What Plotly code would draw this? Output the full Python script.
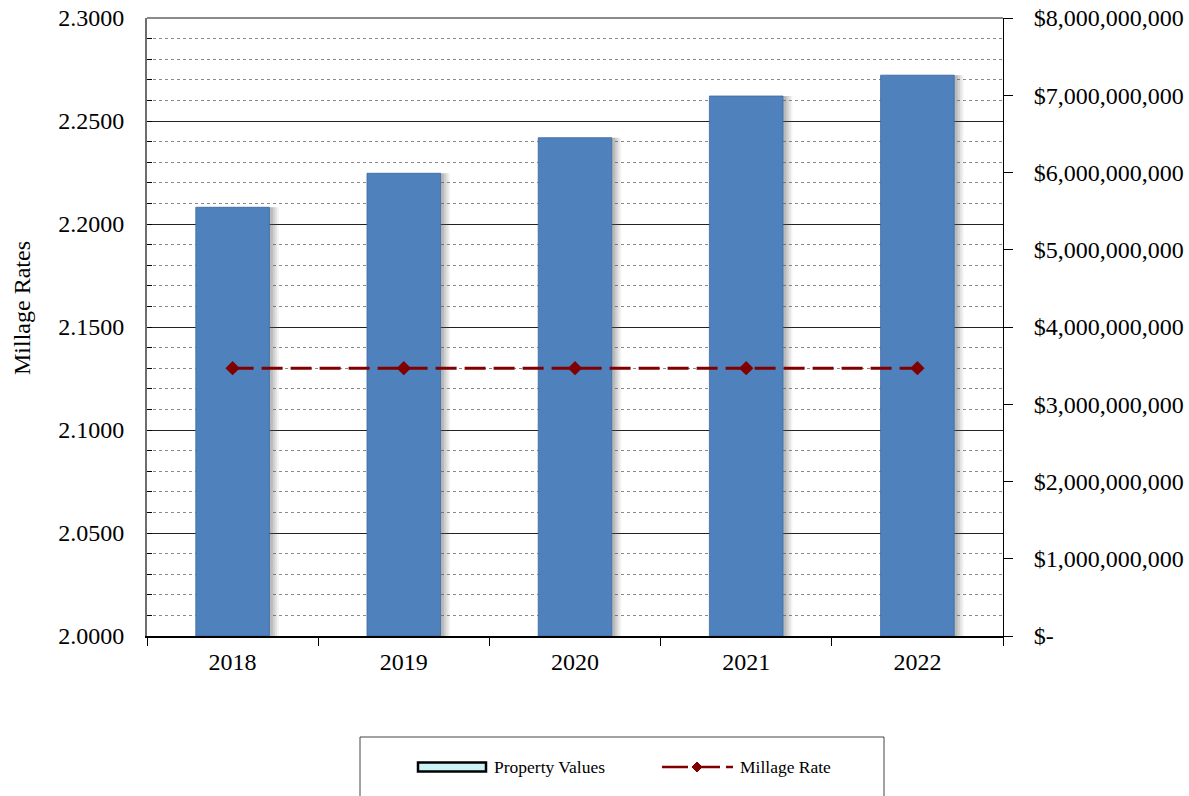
import plotly.graph_objects as go

years = ["2018", "2019", "2020", "2021", "2022"]
property_values = [5.55e9, 5.99e9, 6.45e9, 6.99e9, 7.26e9]
millage_rate = [2.13, 2.13, 2.13, 2.13, 2.13]
left_ticks = [2.0, 2.05, 2.10, 2.15, 2.20, 2.25, 2.30]
right_tickvals = [0, 1e9, 2e9, 3e9, 4e9, 5e9, 6e9, 7e9, 8e9]
right_ticktext = ["$-", "$1,000,000,000", "$2,000,000,000", "$3,000,000,000",
                  "$4,000,000,000", "$5,000,000,000", "$6,000,000,000",
                  "$7,000,000,000", "$8,000,000,000"]

FONT = "Liberation Serif, Times New Roman, serif"
W, H = 1189, 796
L, R, T, B = 147, 186, 18, 160
PW, PH = W - L - R, H - T - B


def px(x):
    return (x - L) / PW


def py(y):
    return (H - B - y) / PH


fig = go.Figure()

# soft shadow of bars (drawn from the same values)
for off, alpha in [(0.055, 0.07), (0.045, 0.10), (0.033, 0.14), (0.02, 0.18)]:
    fig.add_trace(go.Bar(
        x=years, y=property_values, width=0.43, offset=-0.215 + off,
        marker=dict(color=f"rgba(90,90,90,{alpha})", line=dict(width=0)),
        showlegend=False, hoverinfo="skip", yaxis="y", xaxis="x"))
fig.add_trace(go.Bar(
    x=years, y=property_values, width=0.43, offset=-0.215,
    marker=dict(color="#4F81BD", line=dict(width=0.8, color="#3B6AA3")),
    name="Property Values", showlegend=False, yaxis="y", xaxis="x"))
fig.add_trace(go.Scatter(
    x=years, y=millage_rate, mode="lines+markers",
    line=dict(color="#800000", width=3, dash="21px,8px"),
    marker=dict(symbol="diamond", size=11, color="#800000"),
    name="Millage Rate", showlegend=False, yaxis="y2", xaxis="x"))

fig.update_layout(
    width=W, height=H,
    margin=dict(l=L, r=R, t=T, b=B),
    paper_bgcolor="white", plot_bgcolor="white",
    barmode="overlay",
    font=dict(family=FONT, size=24, color="black"),
    showlegend=False,
    xaxis=dict(
        type="category", range=[-0.5, 4.5], automargin=False,
        showgrid=False, showline=True, linecolor="black", linewidth=2,
        ticks="outside", ticklen=8, tickcolor="black", tickson="boundaries",
        tickfont=dict(family=FONT, size=24), ticklabelstandoff=3,
    ),
    yaxis=dict(
        side="right", range=[0, 8e9], automargin=False,
        tickvals=right_tickvals, ticktext=right_ticktext,
        showgrid=False, showline=True, linecolor="black", linewidth=1,
        ticks="outside", ticklen=9, tickcolor="black",
        tickfont=dict(family=FONT, size=24), ticklabelstandoff=16,
        zeroline=False,
    ),
    yaxis2=dict(
        overlaying="y", side="left", range=[2.0, 2.3], automargin=False,
        tickvals=left_ticks, tickformat=".4f",
        showgrid=True, gridcolor="#222222", gridwidth=1,
        minor=dict(dtick=0.01, showgrid=True, gridcolor="#8a8a8a",
                   griddash="dot", gridwidth=1, ticks="inside", ticklen=5,
                   tickcolor="black"),
        showline=True, linecolor="#6e6e6e", linewidth=2,
        ticks="inside", ticklen=5, tickcolor="black",
        tickfont=dict(family=FONT, size=24), ticklabelstandoff=16,
        zeroline=False,
    ),
)

shapes = [
    # top frame line
    dict(type="line", xref="paper", yref="paper", x0=0, x1=1, y0=1, y1=1,
         line=dict(color="#8a8a8a", width=2)),
    # legend box
    dict(type="rect", xref="paper", yref="paper",
         x0=px(360), x1=px(884), y0=py(737), y1=py(805),
         line=dict(color="#444444", width=1), fillcolor="white", layer="below"),
    # legend symbol: property values
    dict(type="rect", xref="paper", yref="paper",
         x0=px(418), x1=px(486), y0=py(762.5), y1=py(771.5),
         line=dict(color="black", width=2.5), fillcolor="#C9F3F6"),
    # legend symbol: millage line
    dict(type="line", xref="paper", yref="paper",
         x0=px(662), x1=px(733), y0=py(767), y1=py(767),
         line=dict(color="#800000", width=2.5, dash="26px,6px")),
    dict(type="path", xref="paper", yref="paper",
         path="M {a},{cy} L {b},{t} L {c},{cy} L {b},{bt} Z".format(
             a=px(692), b=px(697), c=px(702), cy=py(767), t=py(762), bt=py(772)),
         line=dict(color="#800000", width=1), fillcolor="#800000"),
]
fig.update_layout(shapes=shapes)

fig.add_annotation(xref="paper", yref="paper", x=px(22), y=py(308),
                   xanchor="center", yanchor="middle", showarrow=False, textangle=-90,
                   text="Millage Rates", font=dict(family=FONT, size=24, color="black"))
fig.add_annotation(xref="paper", yref="paper", x=px(492), y=py(767),
                   xanchor="left", yanchor="middle", showarrow=False,
                   text="Property Values", font=dict(family=FONT, size=17.5, color="black"))
fig.add_annotation(xref="paper", yref="paper", x=px(738), y=py(767),
                   xanchor="left", yanchor="middle", showarrow=False,
                   text="Millage Rate", font=dict(family=FONT, size=17.5, color="black"))

fig.write_html("out.html")
